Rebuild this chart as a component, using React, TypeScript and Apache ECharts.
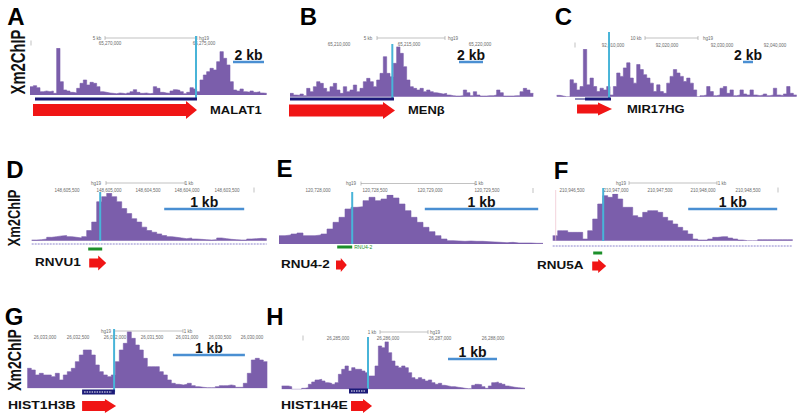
import React, { useEffect, useRef } from "react";
import * as echarts from "echarts";

// ---------------- data ----------------
const panelLetters = ["A", "B", "C", "D", "E", "F", "G", "H"];
const geneNames = ["MALAT1", "MENβ", "MIR17HG", "RNVU1", "RNU4-2", "RNU5A", "HIST1H3B", "HIST1H4E"];
const yLabel = "Xm2ChIP";

const aBins = [25, 28, 22, 10, 12, 10, 12, 5, 140, 40, 15, 12, 8, 6, 20, 35, 45, 30, 38, 35, 25, 10, 8, 6, 5, 4, 6, 5, 3, 6, 10, 16, 8, 5, 6, 4, 5, 25, 20, 8, 6, 5, 12, 16, 14, 10, 4, 8, 22, 18, 10, 45, 60, 70, 80, 75, 100, 130, 110, 90, 40, 15, 12, 18, 10, 8, 12, 8, 10, 6, 5];
const bBins = [10, 5, 4, 8, 3, 25, 15, 30, 45, 40, 25, 15, 30, 40, 20, 10, 30, 15, 20, 35, 15, 25, 45, 55, 45, 30, 50, 70, 120, 70, 60, 100, 150, 130, 90, 50, 30, 25, 20, 25, 15, 20, 15, 12, 10, 8, 10, 5, 3, 2, 2, 3, 20, 12, 3, 15, 5, 2, 2, 3, 3, 5, 20, 12, 2, 2, 2, 3, 3, 15, 25, 20, 10];
const cBins = [4, 2, 0, 0, 50, 40, 20, 30, 140, 35, 55, 30, 15, 25, 20, 30, 5, 30, 70, 60, 85, 100, 55, 40, 95, 80, 65, 55, 40, 15, 35, 15, 10, 40, 60, 80, 70, 60, 45, 55, 40, 20, 0, 3, 5, 30, 15, 3, 5, 25, 30, 10, 20, 3, 5, 20, 8, 5, 20, 5, 3, 5, 8, 3, 5, 25, 5, 3, 8, 30, 10, 5];
const dBins = [2, 3, 5, 10, 12, 14, 15, 12, 10, 8, 12, 30, 55, 115, 130, 140, 130, 115, 95, 80, 65, 55, 40, 30, 25, 20, 15, 12, 10, 8, 6, 8, 5, 4, 3, 2, 3, 8, 6, 4, 3, 2, 2, 5, 6, 7, 6];
const eBins = [25, 27, 30, 33, 25, 25, 27, 30, 45, 65, 80, 105, 110, 112, 130, 140, 130, 135, 147, 138, 120, 100, 80, 65, 50, 37, 25, 15, 10, 9, 8, 9, 8, 8, 7, 6, 5, 4, 5, 3, 3, 3, 2, 2];
const fBins = [15, 30, 30, 25, 25, 25, 5, 30, 65, 110, 135, 130, 140, 125, 100, 100, 75, 70, 85, 90, 90, 85, 70, 60, 50, 40, 30, 20, 5, 2, 2, 5, 10, 12, 12, 8, 5, 2, 0, 0, 0, 3, 3, 3, 3, 3, 3, 3];
const gBins = [60, 55, 40, 45, 40, 40, 35, 45, 25, 40, 50, 60, 80, 100, 115, 115, 100, 70, 50, 40, 35, 40, 80, 115, 135, 170, 150, 130, 115, 90, 65, 65, 65, 50, 40, 25, 15, 12, 10, 12, 15, 8, 5, 3, 2, 2, 2, 5, 8, 8, 10, 8, 3, 3, 15, 45, 85, 90, 85, 80];
const hBins = [10, 10, 8, 0, 0, 0, 3, 5, 15, 22, 28, 30, 25, 20, 18, 15, 20, 45, 60, 70, 55, 65, 60, 60, 55, 50, 40, 40, 70, 130, 125, 143, 110, 85, 70, 65, 70, 65, 50, 35, 30, 35, 30, 25, 28, 20, 15, 18, 12, 10, 8, 8, 6, 5, 3, 2, 2, 12, 15, 14, 8, 3, 10, 20, 22, 18, 15, 10, 8, 6, 5, 4, 3];
const trackBins = [aBins, bBins, cBins, dBins, eBins, fBins, gBins, hBins];

// feature positions, in bin units of each track
const tssAt = [49.8, 30.7, 15.7, 13.7, 12.2, 10.1, 21.7, 25.9];
const featStart = [1.5, 0, 8.5, 11.3, 9.7, 8.1, 13.7, 20.2];
const featEnd = [50.1, 31.2, 16.3, 14.1, 12.2, 9.9, 21.9, 25.9];
const arrowStart = [0.9, -0.3, 6.1, 11.5, 9.5, 7.9, 13.7, 20.8];
const arrowHeadAt = [46.8, 27.9, 12.4, 13.3, 10.3, 9.1, 19.4, 24.4];
const arrowEnd = [50.1, 31.5, 16.6, 14.9, 11.3, 10.7, 22.2, 27.1];
const scaleStart = [60.9, 50.7, 55.9, 26.5, 24.3, 27.1, 36.4, 49.9];
const scaleEnd = [70.2, 57.9, 58.9, 42.5, 43.2, 44.9, 54.4, 64.6];
const scaleLabels = ["2 kb", "2 kb", "2 kb", "1 kb", "1 kb", "1 kb", "1 kb", "1 kb"];

// ruler texts (genome browser header)
const rulerLabels = [
  ["65,270,000", "65,275,000"],
  ["65,210,000", "65,215,000", "65,220,000"],
  ["92,010,000", "92,020,000", "92,030,000", "92,040,000"],
  ["148,605,500", "148,605,000", "148,604,500", "148,604,000", "148,603,500"],
  ["120,728,000", "120,728,500", "120,729,000", "120,729,500"],
  ["210,946,500", "210,947,000", "210,947,500", "210,948,000", "210,948,500"],
  ["26,033,000", "26,032,500", "26,032,000", "26,031,500", "26,031,000", "26,030,500", "26,030,000"],
  ["26,285,000", "26,286,000", "26,287,000", "26,288,000"],
];
const rulerSpan = ["5 kb", "5 kb", "10 kb", "1 kb", "1 kb", "1 kb", "1 kb", "1 kb"];

// ---------------- layout / style ----------------
const PURPLE = "#7b5eab";
const TSS = "#48b4d8";
const SCALE = "#4a8fd2";
const RED = "#f01515";
const NAVY = "#1b1a78";
const GREEN = "#1d8f2a";
const TINY = "#6a6a6a";
const FONT = "'Liberation Sans', Arial, sans-serif";

const layout = [
  { left: 30, binPx: 3.333, base: 95, top: 48.3, tssTop: 36, tssBot: 98, barY: 99, barH: 3, barColor: NAVY, arrowY: 110, head: 9, body: 6, scaleY: 62, nameX: 210, nameSize: 13 },
  { left: 290, binPx: 3.333, base: 96.7, top: 46.7, tssTop: 44, tssBot: 99, barY: 99, barH: 3, barColor: NAVY, arrowY: 110.5, head: 8.5, body: 6, scaleY: 62, nameX: 408, nameSize: 13 },
  { left: 556.7, binPx: 3.333, base: 96.7, top: 49.3, tssTop: 32, tssBot: 98, barY: 99, barH: 3, barColor: NAVY, arrowY: 109, head: 6.5, body: 4.5, scaleY: 62, nameX: 627, nameSize: 13, thinFrom: 5.5 },
  { left: 31.7, binPx: 5, base: 240.7, top: 193.3, tssTop: 192, tssBot: 241, barY: 249, barH: 3, barColor: GREEN, arrowY: 263, head: 7.5, body: 4.5, scaleY: 209, nameX: 35, nameSize: 13.5, trackLine: 244 },
  { left: 279, binPx: 6, base: 244, top: 195, tssTop: 192, tssBot: 244, barY: 247, barH: 3, barColor: GREEN, arrowY: 265, head: 7, body: 4.5, scaleY: 209, nameX: 281, nameSize: 13.5, featLabel: true },
  { left: 552.7, binPx: 5, base: 240.7, top: 194, tssTop: 188, tssBot: 241, barY: 253, barH: 3, barColor: GREEN, arrowY: 266, head: 7, body: 4.5, scaleY: 209, nameX: 537, nameSize: 13.5, trackLine: 246, edge: true },
  { left: 27.3, binPx: 4, base: 388.3, top: 331.7, tssTop: 329, tssBot: 392, barY: 392, barH: 5, barColor: NAVY, arrowY: 406, head: 7, body: 5, scaleY: 355, nameX: 8, nameSize: 14, dashed: true },
  { left: 281.7, binPx: 3.333, base: 389.3, top: 341.7, tssTop: 337, tssBot: 389, barY: 391, barH: 5, barColor: NAVY, arrowY: 406, head: 7, body: 5, scaleY: 359, nameX: 281, nameSize: 14, dashed: true },
];

const letterPos = [[16, 16], [308.5, 16.5], [563.5, 16.5], [15, 169.5], [284.5, 168.5], [561, 170], [14, 316.5], [275, 316.5]];
const yLabelPos = [
  { x: 18, y: 62, size: 20, sx: 0.74 },
  { x: 13.5, y: 218, size: 17, sx: 0.76 },
  { x: 14, y: 360, size: 18, sx: 0.78 },
];

// ruler geometry (pixels)
const rulerGeom = [
  { y: 38, ly: 43, spanX: 97, x0: 105, x1: 197, hgX: 204, lx: [110, 204], marks: [31] },
  { y: 38, ly: 44.5, spanX: 368, x0: 377, x1: 445, hgX: 453, lx: [339, 409, 480], marks: [] },
  { y: 38, ly: 45, spanX: 636, x0: 645, x1: 698, hgX: 708, lx: [613, 667, 722, 775], marks: [575] },
  { y: 183, ly: 190, spanX: 189, x0: 106, x1: 185, hgX: 96, lx: [67, 109, 148, 187, 227], marks: [254] },
  { y: 183.5, ly: 190.5, spanX: 479, x0: 361, x1: 475, hgX: 351, lx: [318, 375, 430, 487], marks: [533] },
  { y: 183, ly: 190, spanX: 722, x0: 629, x1: 717, hgX: 621, lx: [572, 616, 660, 703, 748], marks: [778] },
  { y: 331, ly: 337.5, spanX: 188, x0: 114, x1: 183, hgX: 106, lx: [45, 78, 115, 152, 187, 220, 252], marks: [] },
  { y: 332, ly: 338, spanX: 372, x0: 380, x1: 428, hgX: 435, lx: [338, 388, 440, 493], marks: [303] },
];

function buildOption() {
  const grid: any[] = [];
  const xAxis: any[] = [];
  const yAxis: any[] = [];
  const series: any[] = [];
  const elements: any[] = [];

  trackBins.forEach((bins, i) => {
    const L: any = layout[i];
    const n = bins.length;
    grid.push({ left: L.left, top: L.top, width: n * L.binPx, height: L.base - L.top });
    xAxis.push({ type: "value", gridIndex: i, min: 0, max: n, show: false });
    yAxis.push({ type: "value", gridIndex: i, min: 0, max: Math.max(...bins), show: false });
    const pts = bins.map((v, k) => [k, v]);
    pts.push([n, bins[n - 1]]);
    series.push({
      type: "line",
      xAxisIndex: i,
      yAxisIndex: i,
      step: "end",
      symbol: "none",
      silent: true,
      data: pts,
      lineStyle: { color: PURPLE, width: 0.6 },
      areaStyle: { color: PURPLE, opacity: 1 },
      z: 2,
    });
    series.push({
      type: "custom",
      xAxisIndex: i,
      yAxisIndex: i,
      silent: true,
      z: 5,
      data: [[0, 0]],
      renderItem: (params: any, api: any) => {
        const X = (b: number) => api.coord([b, 0])[0];
        const ch: any[] = [];
        if (L.trackLine) {
          ch.push({ type: "line", shape: { x1: X(0), y1: L.trackLine, x2: X(n), y2: L.trackLine }, style: { stroke: "#8c84cc", lineWidth: 1, lineDash: [2, 1] } });
        }
        if (L.edge) {
          ch.push({ type: "line", shape: { x1: X(0.6), y1: L.tssTop + 2, x2: X(0.6), y2: L.base }, style: { stroke: "#efc6d2", lineWidth: 0.8 } });
        }
        // TSS marker
        ch.push({ type: "line", shape: { x1: X(tssAt[i]), y1: L.tssTop, x2: X(tssAt[i]), y2: L.tssBot }, style: { stroke: TSS, lineWidth: 2 } });
        // gene feature
        if (L.thinFrom !== undefined) {
          ch.push({ type: "line", shape: { x1: X(L.thinFrom), y1: L.barY, x2: X(featEnd[i]), y2: L.barY }, style: { stroke: NAVY, lineWidth: 1 } });
        }
        const fx0 = X(featStart[i]);
        const fx1 = X(featEnd[i]);
        ch.push({ type: "rect", shape: { x: fx0, y: L.barY - L.barH / 2, width: fx1 - fx0, height: L.barH }, style: { fill: L.barColor } });
        if (L.dashed) {
          ch.push({ type: "line", shape: { x1: fx0 + 2, y1: L.barY, x2: fx1 - 3, y2: L.barY }, style: { stroke: "#ffffff", lineWidth: 1, lineDash: [1.5, 1] } });
        }
        if (L.featLabel) {
          ch.push({ type: "text", style: { text: geneNames[i], x: fx1 + 2, y: L.barY, fill: GREEN, fontSize: 5, fontFamily: FONT, align: "left", verticalAlign: "middle" } });
        }
        // direction arrow
        const a0 = X(arrowStart[i]);
        const ah = X(arrowHeadAt[i]);
        const a1 = X(arrowEnd[i]);
        const cy = L.arrowY;
        ch.push({
          type: "polygon",
          shape: { points: [[a0, cy - L.body], [ah, cy - L.body], [ah, cy - L.head], [a1, cy], [ah, cy + L.head], [ah, cy + L.body], [a0, cy + L.body]] },
          style: { fill: RED },
        });
        // scale bar
        const s0 = X(scaleStart[i]);
        const s1 = X(scaleEnd[i]);
        ch.push({ type: "line", shape: { x1: s0, y1: L.scaleY, x2: s1, y2: L.scaleY }, style: { stroke: SCALE, lineWidth: 2.5 } });
        ch.push({ type: "text", style: { text: scaleLabels[i], x: (s0 + s1) / 2, y: L.scaleY - 7.5, fill: "#111", fontSize: 14, lineHeight: 11, fontWeight: "bold", fontFamily: FONT, align: "center", verticalAlign: "middle" } });
        return { type: "group", children: ch };
      },
    });

    // panel letter
    elements.push({ type: "text", x: letterPos[i][0], y: letterPos[i][1], style: { text: panelLetters[i], fill: "#000", fontSize: 24, fontWeight: "bold", fontFamily: FONT, align: "center", verticalAlign: "middle" } });
    // gene name (squashed vertically like the reference)
    elements.push({ type: "text", x: L.nameX, y: L.arrowY, scaleY: 0.78, style: { text: geneNames[i], fill: "#111", fontSize: L.nameSize, fontWeight: "bold", fontFamily: FONT, align: "left", verticalAlign: "middle" } });

    // ruler
    const R = rulerGeom[i];
    const tiny = { fill: TINY, fontSize: 4.5, lineHeight: 5, fontFamily: FONT, verticalAlign: "middle" };
    elements.push({ type: "line", shape: { x1: R.x0, y1: R.y, x2: R.x1, y2: R.y }, style: { stroke: "#999", lineWidth: 0.6 } });
    elements.push({ type: "line", shape: { x1: R.x0, y1: R.y - 2, x2: R.x0, y2: R.y + 2 }, style: { stroke: "#999", lineWidth: 0.6 } });
    elements.push({ type: "line", shape: { x1: R.x1, y1: R.y - 2, x2: R.x1, y2: R.y + 2 }, style: { stroke: "#999", lineWidth: 0.6 } });
    elements.push({ type: "text", x: R.spanX, y: R.y, style: { ...tiny, text: rulerSpan[i], align: "center" } });
    elements.push({ type: "text", x: R.hgX, y: R.y, style: { ...tiny, text: "hg19", align: "center" } });
    R.lx.forEach((x: number, k: number) => {
      elements.push({ type: "text", x, y: R.ly, style: { ...tiny, text: rulerLabels[i][k], align: "center" } });
    });
    R.marks.forEach((x: number) => {
      elements.push({ type: "line", shape: { x1: x, y1: R.ly - 2.5, x2: x, y2: R.ly + 2.5 }, style: { stroke: "#999", lineWidth: 0.6 } });
    });
  });

  yLabelPos.forEach((p) => {
    elements.push({ type: "text", x: p.x, y: p.y, rotation: Math.PI / 2, scaleX: p.sx, style: { text: yLabel, fill: "#111", fontSize: p.size, fontWeight: "bold", fontFamily: FONT, align: "center", verticalAlign: "middle" } });
  });

  return {
    animation: false,
    backgroundColor: "#ffffff",
    grid,
    xAxis,
    yAxis,
    series,
    graphic: { elements },
  };
}

export default function App() {
  const ref = useRef<HTMLDivElement>(null);
  useEffect(() => {
    if (!ref.current) return;
    const chart = echarts.init(ref.current, undefined, { renderer: "svg" });
    chart.setOption(buildOption() as any);
    return () => chart.dispose();
  }, []);
  return <div ref={ref} style={{ position: "fixed", left: 0, top: 0, width: 800, height: 420, background: "#fff" }} />;
}
